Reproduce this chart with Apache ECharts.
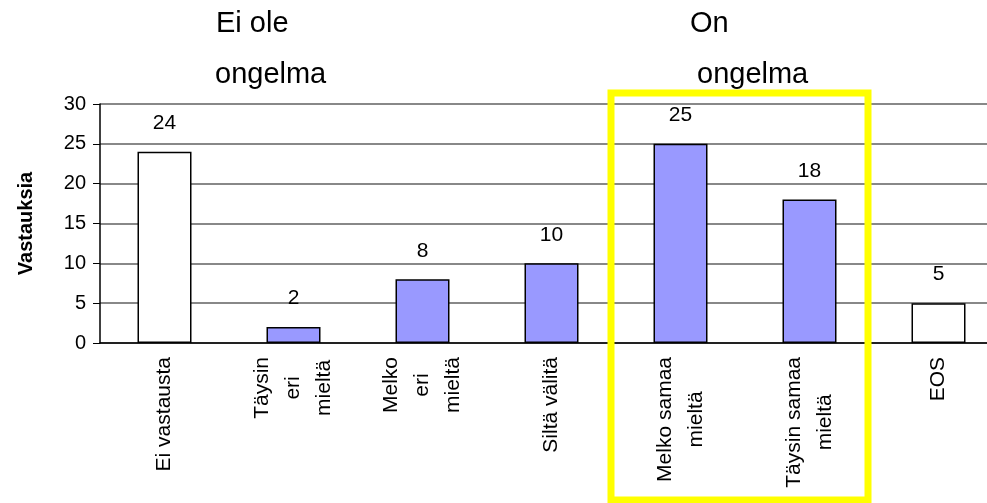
<!DOCTYPE html>
<html>
<head>
<meta charset="utf-8">
<script src="https://cdn.jsdelivr.net/npm/echarts@6/dist/echarts.min.js"></script>
<style>
  html, body { margin: 0; padding: 0; background: #fff; }
  #chart { width: 987px; height: 503px; }
</style>
</head>
<body>
<div id="chart"></div>
<script>
const categories = ['Ei vastausta', 'Täysin\neri\nmieltä', 'Melko\neri\nmieltä', 'Siltä välitä', 'Melko samaa\nmieltä', 'Täysin samaa\nmieltä', 'EOS']
const values = [24, 2, 8, 10, 25, 18, 5]
const yTicks = [0, 5, 10, 15, 20, 25, 30]
// answers outside the agree/disagree scale are drawn white
const neutralCats = ['Ei vastausta', 'EOS']

const font = '"Liberation Sans", Arial, sans-serif'

const chart = echarts.init(document.getElementById('chart'))

const option = {
  animation: false,
  grid: {
    left: 100,
    top: 104,
    width: 903,
    height: 239,
    outerBoundsMode: 'none'
  },
  xAxis: {
    type: 'category',
    data: categories,
    axisLine: { lineStyle: { color: '#000', width: 1.5 } },
    axisTick: { length: 8, lineStyle: { color: '#000', width: 1 } },
    axisLabel: {
      interval: 0,
      rotate: 90,
      margin: 14,
      color: '#000',
      formatter: v => v.split('\n').map(s => '{c|' + s + '}').join('\n'),
      rich: {
        c: { align: 'center', fontSize: 21, lineHeight: 31, fontFamily: font, color: '#000' }
      }
    }
  },
  yAxis: {
    type: 'value',
    min: yTicks[0],
    max: yTicks[yTicks.length - 1],
    interval: 5,
    name: 'Vastauksia',
    nameLocation: 'middle',
    nameGap: 64,
    nameTextStyle: { fontSize: 20, fontWeight: 'bold', fontFamily: font, color: '#000' },
    axisLine: { show: true, lineStyle: { color: '#000', width: 1.5 } },
    axisTick: { show: true, length: 7, lineStyle: { color: '#000' } },
    axisLabel: { fontSize: 20, fontFamily: font, color: '#000', margin: 14 },
    splitLine: { lineStyle: { color: '#888', width: 2 } }
  },
  series: [
    {
      type: 'bar',
      data: values,
      barWidth: 54,
      itemStyle: {
        color: p => neutralCats.includes(p.name) ? '#ffffff' : '#9999ff',
        borderColor: '#000',
        borderWidth: 1.5
      },
      label: {
        show: true,
        position: 'top',
        distance: 18,
        fontSize: 21,
        fontFamily: font,
        color: '#000'
      }
    }
  ],
  graphic: [
    { type: 'text', left: 216, top: 9, style: { text: 'Ei ole', fontSize: 29, fontFamily: font, fill: '#000' } },
    { type: 'text', left: 215, top: 60, style: { text: 'ongelma', fontSize: 29, fontFamily: font, fill: '#000' } },
    { type: 'text', left: 690, top: 9, style: { text: 'On', fontSize: 29, fontFamily: font, fill: '#000' } },
    { type: 'text', left: 697, top: 60, style: { text: 'ongelma', fontSize: 29, fontFamily: font, fill: '#000' } },
    {
      type: 'rect',
      z: 100,
      shape: { x: 611, y: 93, width: 257, height: 407 },
      style: { fill: 'none', stroke: '#ffff00', lineWidth: 7 }
    }
  ]
}

chart.setOption(option)
</script>
</body>
</html>
